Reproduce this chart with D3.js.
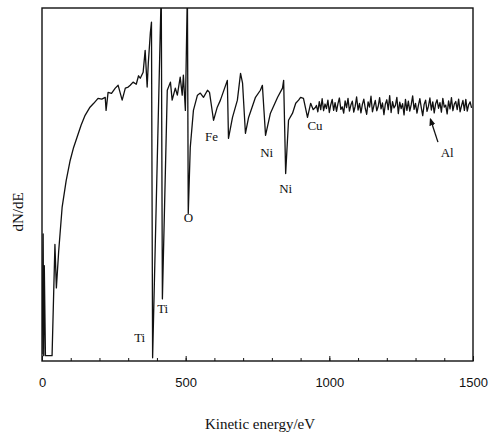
<!DOCTYPE html>
<html>
<head>
<meta charset="utf-8">
<script src="https://cdn.jsdelivr.net/npm/d3@7"></script>
<style>
  body { margin: 0; background: #fff; }
  svg text { fill: #111; }
</style>
</head>
<body>
<svg id="chart" width="491" height="434"></svg>
<script>
// Spectrum: kinetic energy (eV) and dN/dE (arbitrary, 0 = frame bottom, 100 = frame top)
const energy = [
  0, 4, 6, 8, 12, 16, 35, 45, 50, 58, 70, 84, 98, 110, 122, 136, 150, 167, 180, 195,
  208, 220, 223, 230, 242, 255, 265, 279, 290, 300, 307, 317, 328, 336, 342, 352, 359, 366, 370, 377,
  381, 385, 415, 419, 436, 447, 453, 464, 471, 481, 488, 492, 499, 506, 509, 516, 527, 541, 551, 562,
  576, 583, 597, 610, 621, 645, 649, 663, 680, 691, 698, 708, 719, 743, 760, 767, 778, 795, 820, 837,
  841, 848, 858, 872, 883, 893, 900, 910, 924, 935, 944, 952,
  955, 960, 965, 970, 975, 980, 985, 990, 995, 1000,
  1005, 1010, 1015, 1020, 1025, 1030, 1035, 1040, 1045, 1050,
  1055, 1060, 1065, 1070, 1075, 1080, 1085, 1090, 1095, 1100,
  1105, 1110, 1115, 1120, 1125, 1130, 1135, 1140, 1145, 1150,
  1155, 1160, 1165, 1170, 1175, 1180, 1185, 1190, 1195, 1200,
  1205, 1210, 1215, 1220, 1225, 1230, 1235, 1240, 1245, 1250,
  1255, 1260, 1265, 1270, 1275, 1280, 1285, 1290, 1295, 1300,
  1305, 1310, 1315, 1320, 1325, 1330, 1335, 1340, 1345, 1350,
  1355, 1360, 1365, 1370, 1375, 1380, 1385, 1390, 1395, 1400,
  1405, 1410, 1415, 1420, 1425, 1430, 1435, 1440, 1445, 1450,
  1455, 1460, 1465, 1470, 1475, 1480, 1485, 1490, 1495
];
const dNdE = [
  2, 36, 1.5, 27, 1.5, 1.5, 1.5, 33, 20.7, 31, 43.5, 51, 56.8, 60.5, 63.4, 66.8, 69.6, 71.9, 73, 74.4,
  74.2, 74.7, 71, 76.1, 75.8, 77.3, 78.1, 73.9, 77.3, 77.6, 78.1, 79, 78.4, 80.8, 80.1, 81.8, 88, 77.6, 84.4, 92.9,
  96, 0.9, 105, 17.6, 76.7, 79, 73.9, 77.3, 75.3, 80.4, 75.3, 81, 71, 105, 41.8, 60.5, 71, 75.3, 75.9, 74.7,
  76.7, 76.1, 68.2, 71.9, 73.9, 79.5, 63.1, 69, 73.9, 81.5, 78.7, 64.5, 69, 74.7, 76.7, 78.1, 63.9, 70.2, 74.7, 77.3,
  79.5, 53.1, 68.2, 70.2, 73, 73.9, 74.7, 74.4, 69, 73, 71.2, 71.9,
  72.4, 70.6, 73.5, 71.2, 74.3, 70.9, 72.8, 71.5, 73.9, 70.4,
  72.6, 74.1, 71.0, 73.2, 70.7, 72.9, 74.5, 71.3, 72.0, 70.2,
  73.7, 71.8, 74.4, 70.8, 72.5, 73.6, 70.5, 72.2, 74.8, 71.1,
  73.0, 70.3, 72.7, 74.2, 71.6, 69.9, 73.4, 71.9, 75.0, 70.6,
  72.3, 73.8, 70.9, 72.1, 74.6, 71.4, 73.1, 69.8, 72.8, 74.0,
  71.2, 75.2, 70.4, 73.5, 71.7, 72.4, 74.7, 70.1, 73.3, 71.5,
  72.9, 69.7, 74.1, 71.0, 73.6, 70.8, 72.6, 75.1, 71.3, 73.0,
  70.2, 72.4, 74.3, 71.8, 69.5, 72.7, 73.9, 70.7, 72.2, 74.5,
  71.1, 73.4, 70.3, 72.9, 74.0, 71.6, 73.2, 70.5, 74.4, 71.9,
  72.5, 70.0, 73.7, 71.4, 74.6, 70.9, 72.8, 73.5, 71.2, 74.2,
  70.6, 72.3, 73.8, 71.0, 74.1, 70.8, 72.6, 73.4, 71.7
];

const xTicksMajor = [0, 500, 1000, 1500];
const xTicksMinor = d3.range(0, 1501, 100);

// Peak labels: element, energy, dN/dE position
const peakNames = ["Ti", "Ti", "O", "Fe", "Ni", "Ni", "Cu", "Al"];
const peakE = [340, 420, 510, 590, 782, 848, 950, 1410];
const peakV = [5.5, 13.5, 39.5, 62.3, 57.8, 47.6, 65.5, 57.7];

const svg = d3.select("#chart");
const margin = { left: 42, right: 18, top: 8, bottom: 73 };
const W = 491, H = 434;

const x = d3.scaleLinear().domain([0, 1500]).range([margin.left, W - margin.right]);
const y = d3.scaleLinear().domain([0, 100]).range([H - margin.bottom, margin.top]);

svg.append("clipPath").attr("id", "clip")
  .append("rect")
  .attr("x", margin.left).attr("y", margin.top)
  .attr("width", W - margin.left - margin.right)
  .attr("height", H - margin.top - margin.bottom);

// Spectrum line
const pts = energy.map((e, i) => [e, dNdE[i]]);
const line = d3.line().x((d) => x(d[0])).y((d) => y(d[1]));
svg.append("path")
  .datum(pts)
  .attr("clip-path", "url(#clip)")
  .attr("fill", "none")
  .attr("stroke", "#111")
  .attr("stroke-width", 1.3)
  .attr("stroke-linejoin", "round")
  .attr("d", line);

// Frame
svg.append("rect")
  .attr("x", margin.left).attr("y", margin.top)
  .attr("width", W - margin.left - margin.right)
  .attr("height", H - margin.top - margin.bottom)
  .attr("fill", "none")
  .attr("stroke", "#111")
  .attr("stroke-width", 1.4);

// Minor ticks pointing inward
svg.append("g")
  .attr("transform", `translate(0,${y(0)})`)
  .call(d3.axisBottom(x).tickValues(xTicksMinor).tickSize(-3).tickFormat(""))
  .call((g) => g.select(".domain").remove())
  .call((g) => g.selectAll("line").attr("stroke", "#111"));

// Major tick labels
svg.append("g")
  .attr("transform", `translate(0,${y(0)})`)
  .call(d3.axisBottom(x).tickValues(xTicksMajor).tickSize(-5).tickPadding(17).tickFormat(d3.format("d")))
  .call((g) => g.select(".domain").remove())
  .call((g) => g.selectAll("line").attr("stroke", "#111"))
  .call((g) => g.selectAll("text")
    .attr("font-family", "Liberation Sans, Arial, sans-serif")
    .attr("font-size", 13)
    .attr("fill", "#111"));

// Axis titles
svg.append("text")
  .attr("x", 260).attr("y", 429)
  .attr("text-anchor", "middle")
  .attr("font-family", "Liberation Serif, Times New Roman, serif")
  .attr("font-size", 15)
  .text("Kinetic energy/eV");

svg.append("text")
  .attr("transform", "translate(23,212) rotate(-90)")
  .attr("text-anchor", "middle")
  .attr("font-family", "Liberation Serif, Times New Roman, serif")
  .attr("font-size", 15)
  .text("dN/dE");

// Peak labels
svg.append("g")
  .selectAll("text")
  .data(peakNames)
  .join("text")
  .attr("x", (d, i) => x(peakE[i]))
  .attr("y", (d, i) => y(peakV[i]))
  .attr("text-anchor", "middle")
  .attr("font-family", "Liberation Serif, Times New Roman, serif")
  .attr("font-size", 13)
  .text((d) => d);

// Arrow to the Al feature
svg.append("defs").append("marker")
  .attr("id", "arrow")
  .attr("viewBox", "0 0 10 10")
  .attr("refX", 8).attr("refY", 5)
  .attr("markerWidth", 6).attr("markerHeight", 6)
  .attr("orient", "auto")
  .append("path")
  .attr("d", "M0,1 L10,5 L0,9 Z")
  .attr("fill", "#111");

svg.append("line")
  .attr("x1", x(1378)).attr("y1", y(62))
  .attr("x2", x(1352)).attr("y2", y(68.5))
  .attr("stroke", "#111")
  .attr("stroke-width", 1.3)
  .attr("marker-end", "url(#arrow)");
</script>
</body>
</html>
